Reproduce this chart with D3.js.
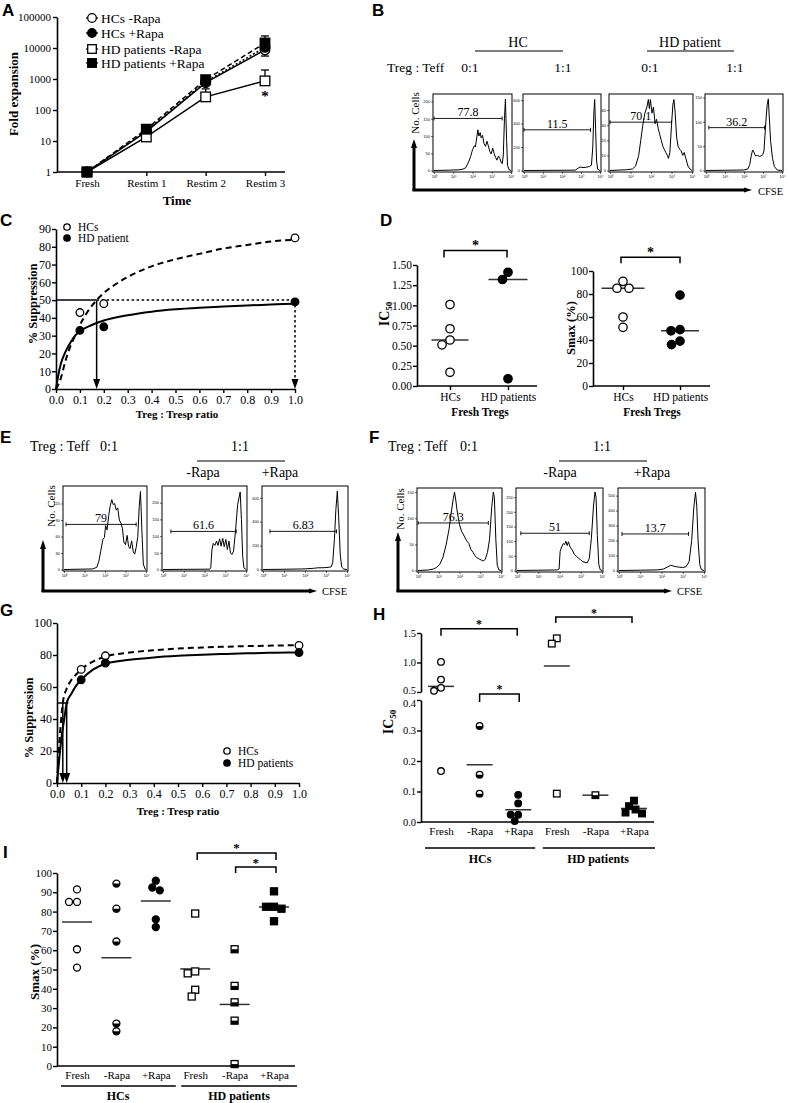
<!DOCTYPE html>
<html><head><meta charset="utf-8">
<script src="https://cdn.jsdelivr.net/npm/d3@7"></script>
<style>body{margin:0;background:#fff}svg{display:block}text{fill:#000}</style>
</head><body><svg id="fig" width="788" height="1103"></svg>
<script>
// ================= DATA =================
// Panel A
const aTime = ["Fresh","Restim 1","Restim 2","Restim 3"];
const aLegend = ["HCs -Rapa","HCs +Rapa","HD patients -Rapa","HD patients +Rapa"];
const aHCsMinus = [1, 20, 760, 8700];
const aHCsPlus  = [1, 21, 820, 10500];
const aHDMinus  = [1, 13.5, 265, 870];
const aHDPlus   = [1, 24, 950, 14500];
const aErrHCsMinus = [null, null, null, [5500, 8700]];
const aErrHDMinus  = [null, null, [265, 480], [870, 1950]];
const aErrHDPlus   = [null, null, null, [14500, 24500]];
const aTicks = [1, 10, 100, 1000, 10000, 100000];

// Panel B (flow histograms: [log10 CFSE, count])
const bHC0 = [[0,0],[0.8,1],[1.3,2],[1.5,4],[1.65,8],[1.8,25],[1.9,40],[2.0,60],[2.1,72],[2.15,68],[2.22,95],[2.28,118],[2.33,100],[2.4,110],[2.45,95],[2.52,102],[2.6,78],[2.68,70],[2.75,85],[2.82,72],[2.9,55],[2.97,48],[3.05,65],[3.12,50],[3.2,38],[3.27,30],[3.35,42],[3.42,35],[3.5,22],[3.55,20],[3.6,45],[3.66,150],[3.71,207],[3.77,90],[3.82,15],[3.9,2],[4,0]];
const bHC1 = [[0,0],[1,1],[2,2],[2.7,3],[2.85,20],[2.95,30],[3.1,25],[3.3,28],[3.45,35],[3.55,45],[3.62,200],[3.68,500],[3.72,605],[3.77,350],[3.82,80],[3.88,10],[4,0]];
const bHD0 = [[0,0],[0.8,0.5],[1.1,1],[1.25,3],[1.4,10],[1.5,20],[1.6,30],[1.7,38],[1.8,42],[1.87,47],[1.92,41],[1.97,47],[2.05,38],[2.12,42],[2.2,31],[2.27,34],[2.35,28],[2.42,24],[2.5,20],[2.58,16],[2.65,14],[2.72,12],[2.8,10],[2.85,8],[2.92,12],[3.0,30],[3.07,44],[3.12,47],[3.18,38],[3.25,22],[3.32,16],[3.4,14],[3.47,13],[3.55,10],[3.62,12],[3.7,8],[3.8,3],[3.9,1],[4,0]];
const bHD1 = [[0,0],[1,0.5],[2.0,1],[2.2,3],[2.3,12],[2.38,30],[2.45,42],[2.52,38],[2.6,30],[2.7,31],[2.8,29],[2.9,30],[2.98,32],[3.05,40],[3.15,100],[3.22,135],[3.28,147],[3.33,110],[3.4,60],[3.5,25],[3.6,8],[3.75,1],[4,0]];
const bYMax = [219, 644, 50, 155];
const bYTicks = [[0,50,100,150,200],[0,200,400,600],[0,10,20,30,40],[0,50,100,150]];
const bGates = [[0,3.54,151],[0,3.5,347],[0,3.0,32],[0.15,3.08,88]];
const bPct = ["77.8","11.5","70.1","36.2"];

// Panel C
const cHCs = [[0.1,43],[0.2,48],[1.0,85]];
const cHD  = [[0.1,33],[0.2,35],[1.0,49]];
const cHCsFit = [[0,0],[0.02,6],[0.04,16],[0.06,24],[0.08,30],[0.1,36],[0.13,43],[0.17,50],[0.2,54],[0.25,59],[0.3,63],[0.4,69],[0.5,73],[0.6,76],[0.7,79],[0.8,81],[0.9,83],[1.0,84]];
const cHDFit  = [[0,0],[0.01,8],[0.02,14],[0.04,21],[0.06,26],[0.08,30],[0.1,32.5],[0.15,36],[0.2,38.5],[0.3,41.5],[0.4,43.5],[0.5,44.8],[0.6,45.7],[0.7,46.4],[0.8,47],[0.9,47.5],[1.0,48]];
const cIC50 = [0.17, 1.0];
const cHalf = 50;

// Panel D
const dGroups = ["HCs","HD patients"];
const dIC50HCs = [1.01,0.71,0.57,0.51,0.17];
const dIC50HD  = [1.41,1.32,0.09];
const dSmaxHCs = [91,85,85,60,51];
const dSmaxHD  = [79,49,48,36,39];

// Panel E
const eHC0 = [[0,0],[1.4,1],[1.6,4],[1.7,15],[1.8,35],[1.9,55],[1.97,58],[2.03,80],[2.1,72],[2.18,98],[2.25,115],[2.33,127],[2.4,118],[2.47,120],[2.55,108],[2.62,112],[2.7,90],[2.78,84],[2.85,75],[2.92,50],[3.0,45],[3.08,62],[3.15,42],[3.22,38],[3.3,52],[3.38,32],[3.45,28],[3.52,40],[3.6,60],[3.67,115],[3.73,142],[3.8,70],[3.87,10],[3.95,1],[4,0]];
const eHCm = [[0,0],[1,0.5],[2.25,1],[2.3,5],[2.36,60],[2.42,78],[2.5,72],[2.58,85],[2.65,72],[2.73,92],[2.8,70],[2.88,93],[2.95,68],[3.03,90],[3.1,60],[3.18,85],[3.25,50],[3.32,45],[3.4,55],[3.5,120],[3.6,195],[3.72,232],[3.78,150],[3.84,40],[3.9,5],[4,0]];
const eHCp = [[0,0],[1.0,2],[2.0,5],[2.4,10],[2.6,14],[2.9,15],[3.1,18],[3.25,22],[3.32,60],[3.4,250],[3.47,500],[3.54,655],[3.6,450],[3.68,120],[3.75,20],[3.85,3],[4,0]];
const eYMax = [150, 247, 690];
const eYTicks = [[0,30,60,90,120],[0,50,100,150,200],[0,200,400,600]];
const eGates = [[0.1,3.52,82],[0.38,3.53,114],[0.33,3.5,319]];
const ePct = ["79","61.6","6.83"];

// Panel F
const fHD0 = [[0,0],[0.5,1],[0.75,3],[0.9,6],[1.05,12],[1.2,25],[1.35,48],[1.5,80],[1.6,110],[1.7,138],[1.76,150],[1.82,135],[1.9,110],[2.0,88],[2.1,75],[2.2,68],[2.3,60],[2.38,55],[2.45,52],[2.55,40],[2.65,35],[2.75,28],[2.85,24],[2.95,22],[3.05,20],[3.15,18],[3.25,22],[3.35,35],[3.45,60],[3.55,120],[3.63,150],[3.68,140],[3.75,60],[3.82,10],[3.9,1],[4,0]];
const fHDm = [[0,0],[1,1],[1.9,2],[1.98,5],[2.03,65],[2.1,80],[2.18,92],[2.24,88],[2.3,100],[2.36,85],[2.42,98],[2.5,80],[2.6,70],[2.7,55],[2.8,48],[2.9,42],[3.0,36],[3.1,30],[3.2,28],[3.3,26],[3.4,40],[3.5,110],[3.6,220],[3.67,268],[3.72,250],[3.78,120],[3.85,20],[3.92,2],[4,0]];
const fHDp = [[0,0],[1.0,2],[1.8,4],[2.1,10],[2.3,25],[2.43,35],[2.55,30],[2.7,25],[2.85,22],[3.0,20],[3.15,25],[3.3,60],[3.42,200],[3.52,420],[3.6,522],[3.66,430],[3.72,200],[3.8,40],[3.88,5],[4,0]];
const fYMax = [156, 278, 544];
const fYTicks = [[0,50,100,150],[0,50,100,150,200,250],[0,100,200,300,400,500]];
const fGates = [[0,3.39,91],[0.18,3.4,127],[0.14,3.27,244]];
const fPct = ["76.3","51","13.7"];

// Panel G
const gHCs = [[0.1,71],[0.2,79.5],[1.0,86]];
const gHD  = [[0.1,64.5],[0.2,75],[1.0,81.5]];
const gHCsFit = [[0,0],[0.005,14],[0.01,26],[0.015,36],[0.024,50],[0.04,59],[0.06,64.5],[0.08,68],[0.1,71],[0.15,76],[0.2,79],[0.3,81.5],[0.4,83],[0.5,84],[0.6,84.7],[0.7,85.2],[0.8,85.6],[0.9,85.9],[1.0,86.2]];
const gHDFit  = [[0,0],[0.01,16],[0.02,30],[0.03,40],[0.04,50],[0.06,56],[0.08,61],[0.1,64.5],[0.15,71],[0.2,74.5],[0.3,77],[0.4,78.5],[0.5,79.5],[0.6,80.2],[0.7,80.7],[0.8,81.1],[0.9,81.4],[1.0,81.6]];
const gIC50 = [0.024, 0.04];

// Panel H (IC50)
const hxLabels = ["Fresh","-Rapa","+Rapa","Fresh","-Rapa","+Rapa"];
const hHCsFresh = [1.01,0.71,0.57,0.52,0.167];
const hHCsMinus = [0.315,0.155,0.093];
const hHCsPlus  = [0.089,0.061,0.024,0.024,0.003];
const hHDFresh  = [1.41,1.32,0.093];
const hHDMinus  = [0.088];
const hHDPlus   = [0.07,0.052,0.041,0.031,0.028];

// Panel I (Smax)
const iHCsFresh = [91.5,85,85,60.5,51];
const iHCsMinus = [94.5,81.5,64.5,22,18];
const iHCsPlus  = [96,92.5,91,76,72];
const iHDFresh  = [79,49,48,39.5,36];
const iHDMinus  = [60.5,41.5,33,23.5,1];
const iHDPlus   = [90.5,82.5,82.5,81.5,75];

// ================= DRAWING =================
const SERIF = '"Liberation Serif","Times New Roman",serif';
const SANS = '"Liberation Sans",Arial,sans-serif';
const svg = d3.select("#fig");

function letter(t,x,y){ svg.append("text").attr("x",x).attr("y",y).attr("font-family",SANS).attr("font-weight","bold").attr("font-size",17).attr("fill","#000").text(t); }
function txt(g,t,x,y,fs,o={}){ return g.append("text").attr("x",x).attr("y",y).attr("font-family",SERIF).attr("font-size",fs).attr("fill","#000")
  .attr("font-weight",o.bold?"bold":"normal").attr("text-anchor",o.anchor||"start").text(t); }
function vtxt(g,t,x,y,fs,bold){ return g.append("text").attr("transform",`translate(${x},${y}) rotate(-90)`).attr("text-anchor","middle")
  .attr("font-family",SERIF).attr("font-size",fs).attr("fill","#000").attr("font-weight",bold?"bold":"normal").text(t); }
function line(g,x1,y1,x2,y2,w,dash){ return g.append("line").attr("x1",x1).attr("y1",y1).attr("x2",x2).attr("y2",y2).attr("stroke","#000").attr("stroke-width",w||1.5).attr("stroke-dasharray",dash||null); }
function axStyle(sel,fs){ sel.attr("font-family",SERIF).attr("font-size",fs);
  sel.select(".domain").attr("stroke","#000").attr("stroke-width",1.6);
  sel.selectAll(".tick line").attr("stroke","#000").attr("stroke-width",1.4);
  sel.selectAll(".tick text").attr("fill","#000"); return sel; }
function mark(g,type,x,y,s){
  const fill = type[0]==="f" ? "#000" : "#fff";
  if(type[1]==="c"){
    g.append("circle").attr("cx",x).attr("cy",y).attr("r",s).attr("fill",fill).attr("stroke","#000").attr("stroke-width",1.3);
    if(type[0]==="h") g.append("path").attr("d",`M${x-s},${y}A${s},${s} 0 0 0 ${x+s},${y}Z`).attr("fill","#000");
  } else {
    g.append("rect").attr("x",x-s).attr("y",y-s).attr("width",2*s).attr("height",2*s).attr("fill",fill).attr("stroke","#000").attr("stroke-width",1.3);
    if(type[0]==="h") g.append("rect").attr("x",x-s).attr("y",y).attr("width",2*s).attr("height",s).attr("fill","#000");
  }
}
function arrowHead(g,x,y,dir,w,h){ // tip at (x,y)
  let d;
  if(dir==="down") d=`M${x},${y}L${x-w/2},${y-h}L${x+w/2},${y-h}Z`;
  if(dir==="up") d=`M${x},${y}L${x-w/2},${y+h}L${x+w/2},${y+h}Z`;
  if(dir==="right") d=`M${x},${y}L${x-h},${y-w/2}L${x-h},${y+w/2}Z`;
  g.append("path").attr("d",d).attr("fill","#000");
}
function swarm(vals,yf,d){
  const order = vals.map((v,i)=>i).sort((a,b)=>vals[b]-vals[a]);
  const placed=[], off=new Array(vals.length).fill(0);
  order.forEach(i=>{
    const y=yf(vals[i]);
    for(let k=0;k<80;k++){
      const dx = k===0?0:(k%2?-1:1)*Math.ceil(k/2)*0.5;
      if(placed.every(p=>Math.hypot(p[0]-dx,p[1]-y)>=d)){ off[i]=dx; placed.push([dx,y]); break; }
    }
  });
  return off;
}
function dots(g,cx,vals,type,yf,s,center,mlen){
  const off = swarm(vals,yf,2*s+0.6);
  if(center!=null) line(g,cx-mlen/2,yf(center),cx+mlen/2,yf(center),1.5).attr("stroke","#333");
  vals.forEach((v,i)=>mark(g,type,cx+off[i],yf(v),s));
}
function star(g,x,y,fs){ return txt(g,"*",x,y,fs,{anchor:"middle",bold:true}); }
function bracket(g,x1,x2,y,drop,fs){
  g.append("path").attr("d",`M${x1},${y+drop}V${y}H${x2}V${y+drop}`).attr("fill","none").attr("stroke","#000").attr("stroke-width",1.5);
  star(g,(x1+x2)/2,y-0.5,fs||14);
}
const sup = ["\u2070","\u00b9","\u00b2","\u00b3","\u2074"];
function flowBox(g,box,hist,ymax,yticks,gate,pct){
  const [L,R,T,B]=box;
  const x=d3.scaleLinear().domain([0,4]).range([L+1,R-1]);
  const y=d3.scaleLinear().domain([0,ymax]).range([B-1.5,T+1]);
  g.append("rect").attr("x",L).attr("y",T).attr("width",R-L).attr("height",B-T).attr("fill","none").attr("stroke","#000").attr("stroke-width",1);
  const ya = g.append("g").attr("transform",`translate(${L},0)`).call(d3.axisLeft(y).tickValues(yticks).tickSize(2).tickPadding(1).tickFormat(d3.format("d")));
  ya.attr("font-family",SANS).attr("font-size",4); ya.select(".domain").remove(); ya.selectAll(".tick line").attr("stroke","#000").attr("stroke-width",0.6);
  const xa = g.append("g").attr("transform",`translate(0,${B})`).call(d3.axisBottom(x).tickValues([0,1,2,3,4]).tickSize(2).tickPadding(1).tickFormat(k=>"10"+sup[k]));
  xa.attr("font-family",SANS).attr("font-size",4); xa.select(".domain").remove(); xa.selectAll(".tick line").attr("stroke","#000").attr("stroke-width",0.6);
  g.append("path").datum(hist).attr("d",d3.line().x(d=>x(d[0])).y(d=>y(d[1]))).attr("fill","none").attr("stroke","#000").attr("stroke-width",1);
  const gy=y(gate[2]), gx1=x(gate[0]), gx2=x(gate[1]);
  line(g,gx1,gy,gx2,gy,0.9); line(g,gx1,gy-2,gx1,gy+2,0.9); line(g,gx2,gy-2,gx2,gy+2,0.9);
  txt(g,pct,(gx1+gx2)/2,gy-2,12,{anchor:"middle"});
}

// ---------- Panel A ----------
(function(){
  const g = svg.append("g");
  letter("A",2,16);
  const x = d3.scalePoint().domain(aTime).range([87,265]);
  const y = d3.scaleLog().domain([1,1e5]).range([172,17]);
  axStyle(g.append("g").attr("transform","translate(57,0)").call(d3.axisLeft(y).tickValues(aTicks).tickFormat(d3.format("d")).tickSize(4).tickSizeOuter(0).tickPadding(2)),11);
  const xa = axStyle(g.append("g").attr("transform","translate(0,172)").call(d3.axisBottom(x).tickSize(4).tickSizeOuter(0)),11);
  xa.select(".domain").remove(); line(g,57,172,285,172,1.6);
  txt(g,"Time",177,205,13,{bold:true,anchor:"middle"});
  vtxt(g,"Fold expansion",18,94,13,true);
  const series = [
    {v:aHCsMinus,e:aErrHCsMinus,m:"oc",dash:null},
    {v:aHCsPlus,e:null,m:"fc",dash:"2,2"},
    {v:aHDMinus,e:aErrHDMinus,m:"os",dash:null},
    {v:aHDPlus,e:aErrHDPlus,m:"fs",dash:"5,3"}];
  const ln = d3.line().x((d,i)=>x(aTime[i])).y(d=>y(d));
  series.forEach(s=>g.append("path").datum(s.v).attr("d",ln).attr("fill","none").attr("stroke","#000").attr("stroke-width",1.5).attr("stroke-dasharray",s.dash));
  series.forEach(s=>{ if(!s.e) return; s.e.forEach((e,i)=>{ if(!e) return; const cx=x(aTime[i]);
    line(g,cx,y(e[0]),cx,y(e[1]),1.3); const ce = e[1]>s.v[i]?e[1]:e[0]; line(g,cx-4,y(ce),cx+4,y(ce),1.3); }); });
  series.forEach(s=>s.v.forEach((v,i)=>mark(g,s.m,x(aTime[i]),y(v),4.8)));
  star(g,265,101,15);
  aLegend.forEach((t,i)=>{ const ly=[18,33,49,63][i]; line(g,86,ly,98,ly,1.3); mark(g,series[i].m,92,ly,4.3); txt(g,t,101,ly+4.5,13.5); });
})();

// ---------- Panel B ----------
(function(){
  const g = svg.append("g");
  letter("B",372,16);
  txt(g,"HC",518,47,14,{anchor:"middle"}); line(g,475,51,563,51,1.2);
  txt(g,"HD patient",690,47,14,{anchor:"middle"}); line(g,647,51,734,51,1.2);
  txt(g,"Treg : Teff",387,72,13.5);
  ["0:1","1:1","0:1","1:1"].forEach((t,i)=>txt(g,t,[470,563,650,735][i],72,13.5,{anchor:"middle"}));
  const boxes=[[433,512,94,172],[523,601,94,172],[609,693,94,172],[705,783,94,172]];
  [bHC0,bHC1,bHD0,bHD1].forEach((h,i)=>flowBox(g,boxes[i],h,bYMax[i],bYTicks[i],bGates[i],bPct[i]));
  vtxt(g,"No. Cells",419,113,11,false);
  line(g,414,191,414,146,3); arrowHead(g,414,139,"up",6,9);
  line(g,412.5,190,745,190,3); arrowHead(g,752,190,"right",5,8);
  txt(g,"CFSE",758,195,10.5);
})();

// ---------- Panels C & G helper ----------
function suppressionPanel(g,xr,yr,ymax,ytickStep,hcFit,hdFit,fs){
  const x=d3.scaleLinear().domain([0,1]).range(xr);
  const y=d3.scaleLinear().domain([0,ymax]).range(yr);
  axStyle(g.append("g").attr("transform",`translate(${xr[0]},0)`).call(d3.axisLeft(y).tickValues(d3.range(0,ymax+1,ytickStep)).tickSize(4).tickSizeOuter(0).tickPadding(1)),fs);
  axStyle(g.append("g").attr("transform",`translate(0,${yr[0]})`).call(d3.axisBottom(x).tickValues(d3.range(0,11).map(k=>k/10)).tickFormat(d3.format(".1f")).tickSize(4).tickSizeOuter(0).tickPadding(2)),fs);
  const ln=d3.line().x(d=>x(d[0])).y(d=>y(d[1])).curve(d3.curveMonotoneX);
  g.append("path").datum(hcFit).attr("d",ln).attr("fill","none").attr("stroke","#000").attr("stroke-width",2).attr("stroke-dasharray","6,4");
  g.append("path").datum(hdFit).attr("d",ln).attr("fill","none").attr("stroke","#000").attr("stroke-width",2);
  return {x,y};
}
(function(){
  const g = svg.append("g");
  letter("C",0,226);
  const {x,y} = suppressionPanel(g,[56,295],[389,229],90,10,cHCsFit,cHDFit,12);
  line(g,x(0),y(cHalf),x(cIC50[0]),y(cHalf),1.5);
  line(g,x(cIC50[0]),y(cHalf),x(cIC50[0]),y(0)-8,1.5); arrowHead(g,x(cIC50[0]),y(0),"down",7,10);
  line(g,x(cIC50[0]),y(cHalf),x(cIC50[1]),y(cHalf),1.5,"2.5,2.5");
  line(g,x(cIC50[1]),y(cHalf),x(cIC50[1]),y(0)-8,1.5,"2.5,2.5"); arrowHead(g,x(cIC50[1]),y(0),"down",7,10);
  cHCs.forEach(d=>mark(g,"oc",x(d[0]),y(d[1]),3.8));
  cHD.forEach(d=>mark(g,"fc",x(d[0]),y(d[1]),3.8));
  mark(g,"oc",67,227,3.2); txt(g,"HCs",78,231,11.5);
  mark(g,"fc",67,238,3.2); txt(g,"HD patient",78,242,11.5);
  txt(g,"Treg : Tresp ratio",177,418,11,{bold:true,anchor:"middle"});
  vtxt(g,"% Suppression",37,304,12.5,true);
})();

// ---------- Panel D ----------
(function(){
  const g = svg.append("g");
  letter("D",380,226);
  const x1=d3.scalePoint().domain(dGroups).range([450,508]);
  const y1=d3.scaleLinear().domain([0,1.5]).range([386,265]);
  axStyle(g.append("g").attr("transform","translate(417,0)").call(d3.axisLeft(y1).tickValues(d3.range(0,1.51,0.25)).tickFormat(d3.format(".2f")).tickSize(4).tickSizeOuter(0).tickPadding(1)),11.5);
  const xa1=axStyle(g.append("g").attr("transform","translate(0,386)").call(d3.axisBottom(x1).tickSize(4).tickSizeOuter(0)),11.5);
  xa1.select(".domain").remove(); line(g,417,386,537,386,1.6);
  dots(g,x1("HCs"),dIC50HCs,"oc",y1,4.2,d3.median(dIC50HCs),37);
  dots(g,x1("HD patients"),dIC50HD,"fc",y1,4.2,d3.median(dIC50HD),39);
  bracket(g,x1("HCs")-6,x1("HD patients")-1,y1(1.68),7);
  txt(g,"Fresh Tregs",480,416,11.5,{bold:true,anchor:"middle"});
  const t=vtxt(g,"",389,314,14,true); t.append("tspan").text("IC"); t.append("tspan").attr("font-size",9).attr("dy",3).text("50");
  const x2=d3.scalePoint().domain(dGroups).range([623,680]);
  const y2=d3.scaleLinear().domain([0,100]).range([386,271]);
  axStyle(g.append("g").attr("transform","translate(593,0)").call(d3.axisLeft(y2).tickValues(d3.range(0,101,20)).tickSize(4).tickSizeOuter(0).tickPadding(1)),11.5);
  const xa2=axStyle(g.append("g").attr("transform","translate(0,386)").call(d3.axisBottom(x2).tickSize(4).tickSizeOuter(0)),11.5);
  xa2.select(".domain").remove(); line(g,593,386,710,386,1.6);
  dots(g,x2("HCs"),dSmaxHCs,"oc",y2,4.2,d3.median(dSmaxHCs),43);
  dots(g,x2("HD patients"),dSmaxHD,"fc",y2,4.2,d3.median(dSmaxHD),38);
  bracket(g,x2("HCs")-2,x2("HD patients"),y2(112),6);
  txt(g,"Fresh Tregs",652,416,11.5,{bold:true,anchor:"middle"});
  vtxt(g,"Smax (%)",575,328,12.5,true);
})();

// ---------- Panel E ----------
(function(){
  const g = svg.append("g");
  letter("E",0,443);
  txt(g,"Treg : Teff",30,451,14); txt(g,"0:1",100,451,14);
  txt(g,"1:1",240,451,14,{anchor:"middle"}); line(g,197,461,285,461,1.2);
  txt(g,"-Rapa",203,477,14,{anchor:"middle"}); txt(g,"+Rapa",280,477,14,{anchor:"middle"});
  const boxes=[[63,147,486,571],[162,247,486,571],[262,348,486,571]];
  [eHC0,eHCm,eHCp].forEach((h,i)=>flowBox(g,boxes[i],h,eYMax[i],eYTicks[i],eGates[i],ePct[i]));
  vtxt(g,"No. Cells",55,506,11,false);
  line(g,43,592,43,547,3); arrowHead(g,43,540,"up",6,9);
  line(g,41.5,591,310,591,3); arrowHead(g,317,591,"right",5,8);
  txt(g,"CFSE",322,595,10.5);
})();

// ---------- Panel F ----------
(function(){
  const g = svg.append("g");
  letter("F",369,443);
  txt(g,"Treg : Teff",388,451,14); txt(g,"0:1",469,451,14,{anchor:"middle"});
  txt(g,"1:1",602,451,14,{anchor:"middle"}); line(g,559,461,647,461,1.2);
  txt(g,"-Rapa",560,477,14,{anchor:"middle"}); txt(g,"+Rapa",652,477,14,{anchor:"middle"});
  const boxes=[[417,502,488,572],[516,603,488,572],[618,705,488,572]];
  [fHD0,fHDm,fHDp].forEach((h,i)=>flowBox(g,boxes[i],h,fYMax[i],fYTicks[i],fGates[i],fPct[i]));
  vtxt(g,"No. Cells",404,509,11,false);
  line(g,398,592,398,539,3); arrowHead(g,398,532,"up",6,9);
  line(g,396.5,591,665,591,3); arrowHead(g,672,591,"right",5,8);
  txt(g,"CFSE",677,595,10.5);
})();

// ---------- Panel G ----------
(function(){
  const g = svg.append("g");
  letter("G",0,616);
  const {x,y} = suppressionPanel(g,[57,299],[783,623],100,20,gHCsFit,gHDFit,12);
  line(g,x(0),y(50),x(0.047),y(50),1.5);
  gIC50.forEach(v=>{ line(g,x(v),y(50),x(v),y(0)-8,1.5); arrowHead(g,x(v),y(0),"down",7,10); });
  gHCs.forEach(d=>mark(g,"oc",x(d[0]),y(d[1]),3.8));
  gHD.forEach(d=>mark(g,"fc",x(d[0]),y(d[1]),3.8));
  mark(g,"oc",227,751,3.2); txt(g,"HCs",238,755,11.5);
  mark(g,"fc",227,763,3.2); txt(g,"HD patients",238,767,11.5);
  txt(g,"Treg : Tresp ratio",178,815,11,{bold:true,anchor:"middle"});
  vtxt(g,"% Suppression",33,718,12.5,true);
})();

// ---------- Panel H ----------
(function(){
  const g = svg.append("g");
  letter("H",373,620);
  const x=d3.scalePoint().domain(d3.range(6)).range([441,634]);
  const yHi=d3.scaleLinear().domain([0.5,1.5]).range([692,633]);
  const yLo=d3.scaleLinear().domain([0,0.4]).range([822,700]);
  const yf=v=>v<=0.45?yLo(v):yHi(v);
  const ah=axStyle(g.append("g").attr("transform","translate(421,0)").call(d3.axisLeft(yHi).tickValues([0.5,1.0,1.5]).tickFormat(d3.format(".1f")).tickSize(4).tickSizeOuter(0).tickPadding(1)),10.5);
  ah.selectAll(".tick text").filter(d=>d===0.5).attr("dy","0.1em");
  const al=axStyle(g.append("g").attr("transform","translate(421,0)").call(d3.axisLeft(yLo).tickValues([0,0.1,0.2,0.3,0.4]).tickFormat(d3.format(".1f")).tickSize(4).tickSizeOuter(0).tickPadding(1)),10.5);
  al.selectAll(".tick text").filter(d=>d===0.4).attr("dy","0.6em");
  const xa=axStyle(g.append("g").attr("transform","translate(0,822)").call(d3.axisBottom(x).tickSize(0).tickPadding(5).tickFormat(i=>hxLabels[i])),11);
  xa.select(".domain").remove(); line(g,421,822,654,822,1.6);
  const groups=[[hHCsFresh,"oc"],[hHCsMinus,"hc"],[hHCsPlus,"fc"],[hHDFresh,"os"],[hHDMinus,"hs"],[hHDPlus,"fs"]];
  groups.forEach((gr,i)=>dots(g,x(i),gr[0],gr[1],yf,3.3,d3.mean(gr[0]),26));
  bracket(g,x(0),x(2)-1,yf(1.57),7,12);
  bracket(g,x(1),x(2)+1,yLo(0.42),8,12);
  bracket(g,x(3)-1,x(5)-2,yf(1.77),6,12);
  line(g,x(0)-16,848,x(2)+17,848,1.4); line(g,x(3)-14,848,x(5)+21,848,1.4);
  txt(g,"HCs",480,863,12,{bold:true,anchor:"middle"});
  txt(g,"HD patients",598,863,12,{bold:true,anchor:"middle"});
  const t=vtxt(g,"",393,722,14,true); t.append("tspan").text("IC"); t.append("tspan").attr("font-size",9).attr("dy",3).text("50");
})();

// ---------- Panel I ----------
(function(){
  const g = svg.append("g");
  letter("I",3,858);
  const x=d3.scalePoint().domain(d3.range(6)).range([77,274]);
  const y=d3.scaleLinear().domain([0,100]).range([1066,873]);
  axStyle(g.append("g").attr("transform","translate(57,0)").call(d3.axisLeft(y).tickValues(d3.range(0,101,10)).tickSize(4).tickSizeOuter(0).tickPadding(1)),11);
  const xa=axStyle(g.append("g").attr("transform","translate(0,1066)").call(d3.axisBottom(x).tickSize(0).tickPadding(5).tickFormat(i=>hxLabels[i])),11);
  xa.select(".domain").remove(); line(g,57,1066,295,1066,1.6);
  const groups=[[iHCsFresh,"oc"],[iHCsMinus,"hc"],[iHCsPlus,"fc"],[iHDFresh,"os"],[iHDMinus,"hs"],[iHDPlus,"fs"]];
  groups.forEach((gr,i)=>dots(g,x(i),gr[0],gr[1],y,3.5,d3.mean(gr[0]),30));
  bracket(g,x(3)+2,x(5)+2,y(110.4),7,13);
  bracket(g,x(4)+1,x(5)+2,y(103.1),6,13);
  line(g,x(0)-16,1086,x(2)+20,1086,1.4); line(g,x(3)-14,1086,x(5)+23,1086,1.4);
  txt(g,"HCs",118,1100,12,{bold:true,anchor:"middle"});
  txt(g,"HD patients",239,1100,12,{bold:true,anchor:"middle"});
  vtxt(g,"Smax (%)",39,972,13,true);
})();
</script></body></html>
